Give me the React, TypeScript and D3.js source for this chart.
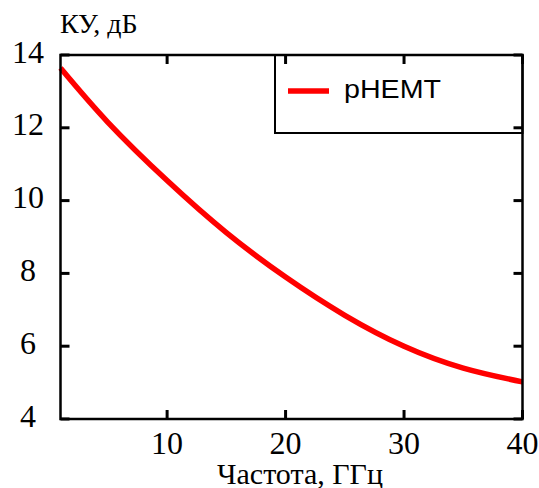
import React from "react";
import * as d3 from "d3";

const freqs = [1, 5, 10, 15, 20, 25, 30, 35, 40];
const gain = [13.64, 12.15, 10.55, 9.12, 7.9, 6.85, 6.0, 5.4, 5.02];
const xTicks = [10, 20, 30, 40];
const yTicks = [4, 6, 8, 10, 12, 14];
const seriesName = "pHEMT";
const xLabel = "Частота, ГГц";
const yLabel = "КУ, дБ";

export default function App() {
  const W = 539, H = 488;
  const left = 60.5, right = 522.5, top = 55, bottom = 419;
  const x = d3.scaleLinear().domain([1, 40]).range([left, right]);
  const y = d3.scaleLinear().domain([4, 14]).range([bottom, top]);
  const pts = freqs.map((f, i) => [f, gain[i]] as [number, number]);
  const line = d3.line<[number, number]>().x(d => x(d[0])).y(d => y(d[1])).curve(d3.curveNatural);
  const tl = 9;
  const serif = "'Liberation Serif', 'Times New Roman', serif";
  const sans = "'Liberation Sans', Arial, sans-serif";
  return (
    <svg width={W} height={H} style={{ position: "absolute", left: 0, top: 0, background: "#fff" }}>
      <rect x={0} y={0} width={W} height={H} fill="#fff" />
      <path d={line(pts) || ""} fill="none" stroke="#ff0000" strokeWidth={5.5} />
      {/* legend */}
      <rect x={275} y={top} width={right - 275} height={133 - top} fill="#fff" stroke="#000" strokeWidth={2} />
      <line x1={288} x2={329} y1={91} y2={91} stroke="#ff0000" strokeWidth={5.5} />
      <text x={344} y={98} fontFamily={sans} fontSize={26} textLength={97} lengthAdjust="spacingAndGlyphs" fill="#000">{seriesName}</text>
      {/* frame */}
      <rect x={left} y={top} width={right - left} height={bottom - top} fill="none" stroke="#000" strokeWidth={2.5} />
      {xTicks.map(t => (
        <g key={"x" + t}>
          <line x1={x(t)} x2={x(t)} y1={bottom} y2={bottom - tl} stroke="#000" strokeWidth={3} />
          <line x1={x(t)} x2={x(t)} y1={top} y2={top + tl} stroke="#000" strokeWidth={3} />
          <text x={x(t)} y={454} textAnchor="middle" fontFamily={serif} fontSize={32} fill="#000">{t}</text>
        </g>
      ))}
      {yTicks.map(t => (
        <g key={"y" + t}>
          <line x1={left} x2={left + tl} y1={y(t)} y2={y(t)} stroke="#000" strokeWidth={3} />
          <line x1={right} x2={right - tl} y1={y(t)} y2={y(t)} stroke="#000" strokeWidth={3} />
          <text x={28} y={y(t) + 7.5} textAnchor="middle" fontFamily={serif} fontSize={32} fill="#000">{t}</text>
        </g>
      ))}
      <text x={60} y={33} fontFamily={serif} fontSize={28} fill="#000">{yLabel}</text>
      <text x={300} y={484} textAnchor="middle" fontFamily={serif} fontSize={30} fill="#000">{xLabel}</text>
    </svg>
  );
}
